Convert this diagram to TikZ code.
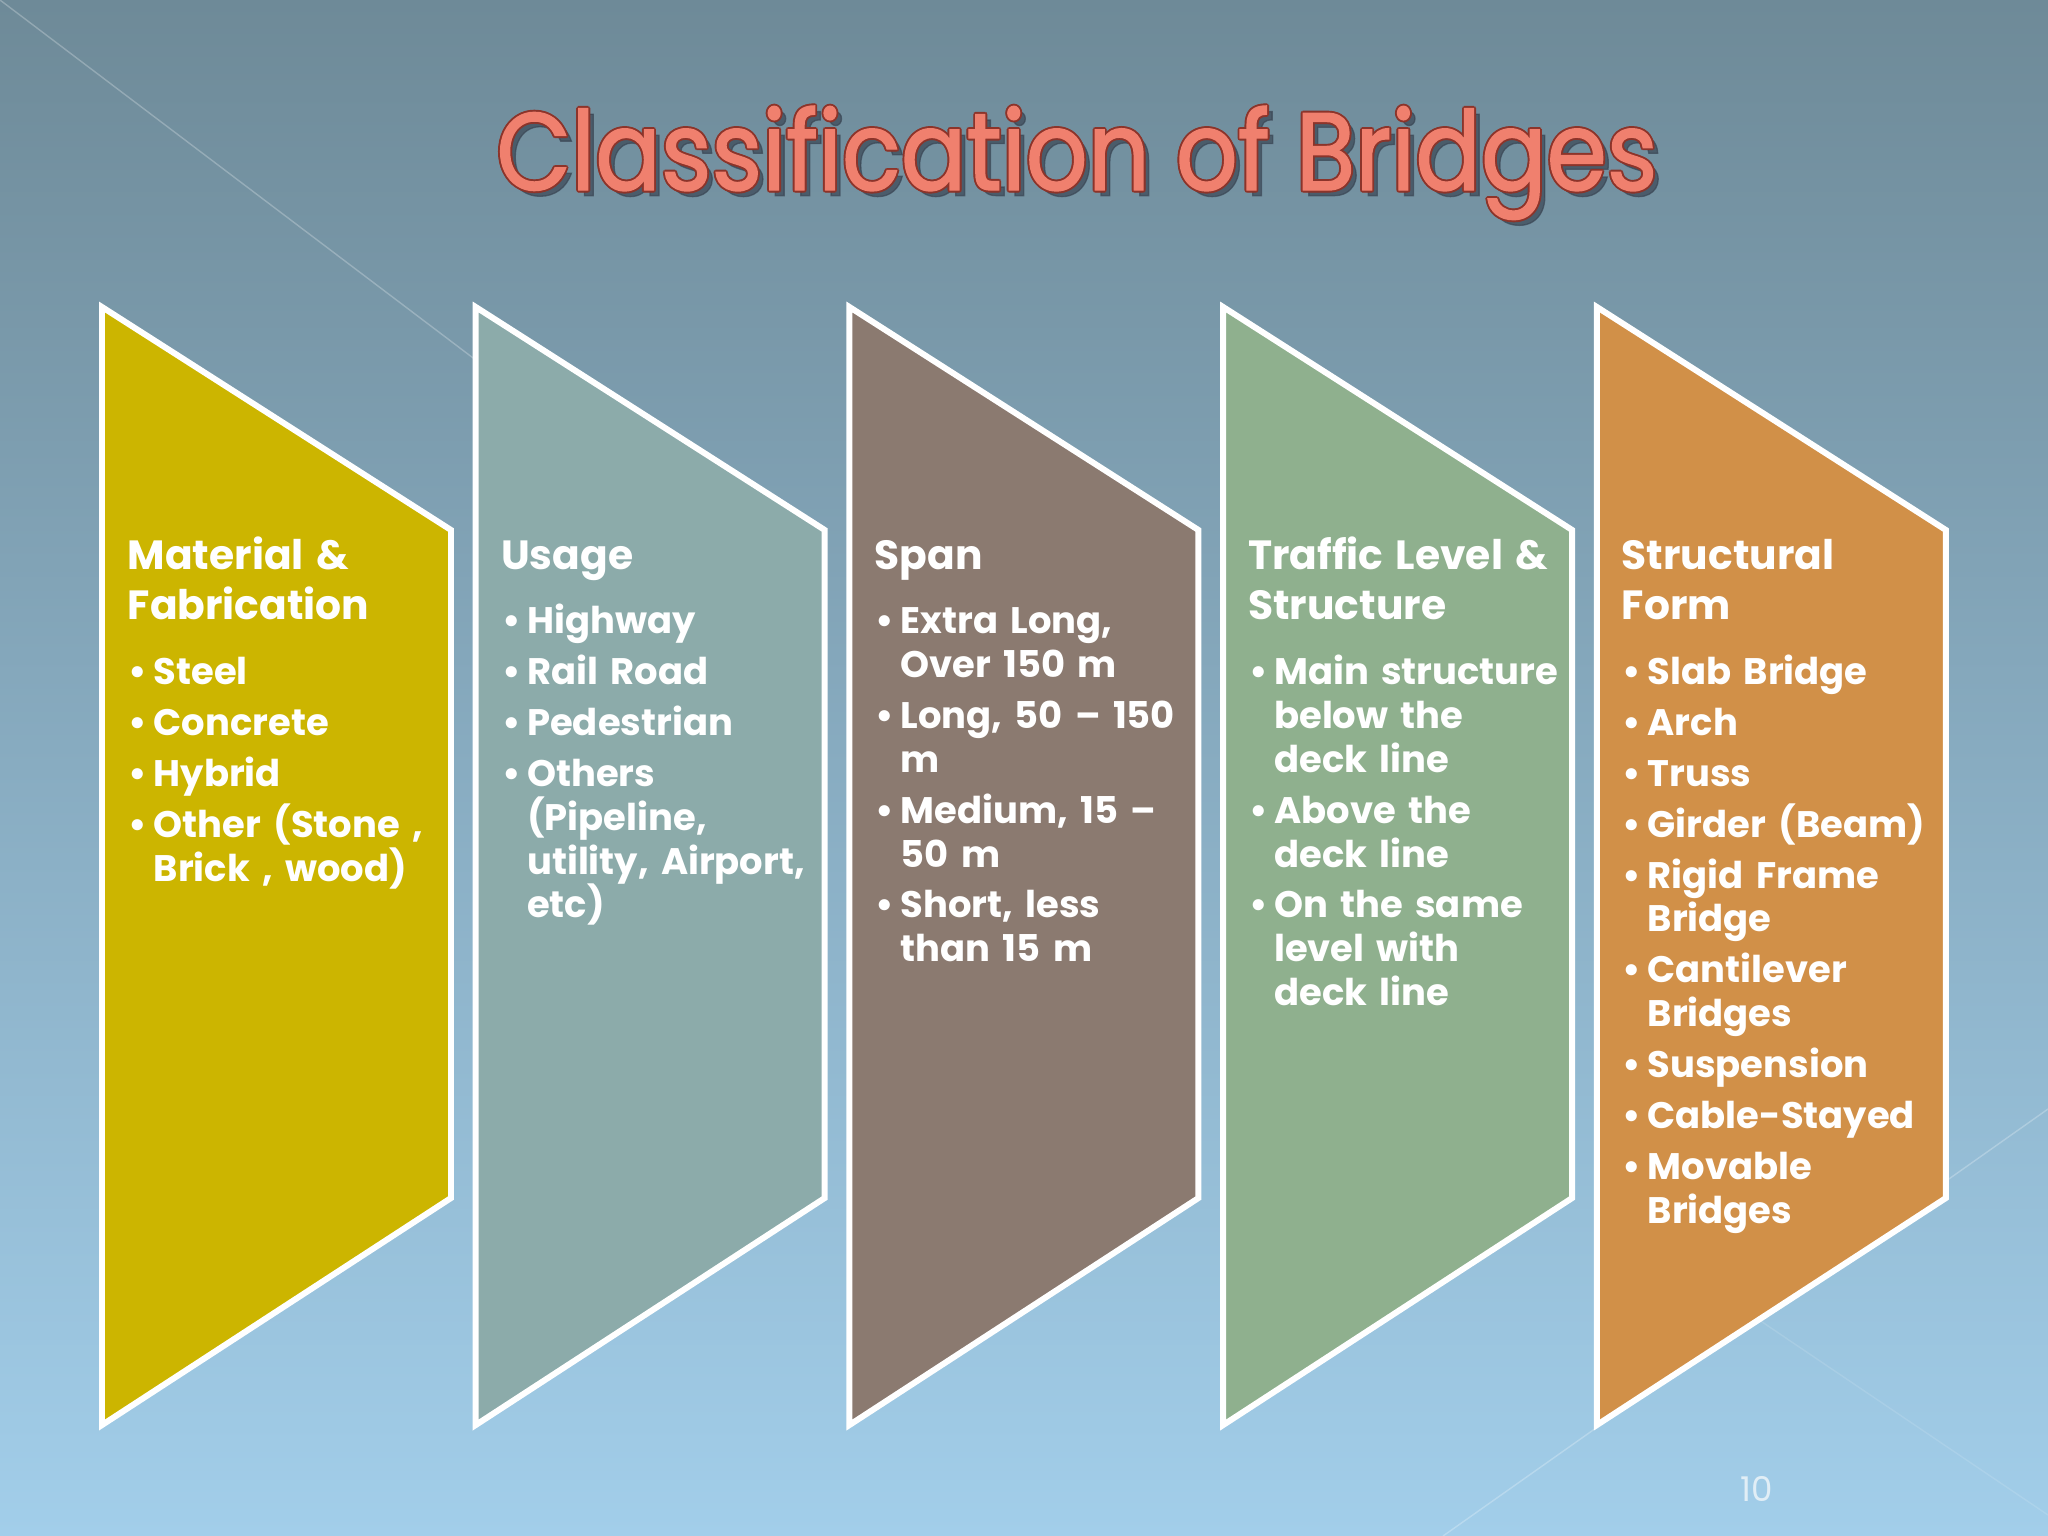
\documentclass[tikz,border=0pt]{standalone}
\usepackage{fontspec}
\setmainfont{Poppins}
\newfontfamily\titlefont[FakeStretch=0.882, FakeBold=1.2]{Poppins}
\definecolor{bgTop}{RGB}{110,138,152}
\definecolor{bgMid}{RGB}{130,165,186}
\definecolor{bgBottom}{RGB}{162,206,234}
\definecolor{matCol}{RGB}{204,181,0}
\definecolor{useCol}{RGB}{140,171,170}
\definecolor{spanCol}{RGB}{139,122,112}
\definecolor{trafficCol}{RGB}{143,176,142}
\definecolor{formCol}{RGB}{209,144,72}
\definecolor{titleFill}{RGB}{240,128,110}
\definecolor{titleEdge}{RGB}{140,52,42}
\definecolor{titleShade}{RGB}{58,70,84}
\definecolor{pageCol}{RGB}{225,238,246}
\newcommand{\headfont}{\fontsize{11.6}{14.46}\selectfont\bfseries}
\newcommand{\itemfont}{\fontsize{10.5}{12.47}\selectfont\bfseries}
\newcommand{\bitem}[2][1.99pt]{\par\vspace{#1}\noindent\llap{\textbullet\hspace{1.9pt}}#2}
\tikzset{
  panel/.style={draw=white, line width=1.7pt, line join=miter},
  paneltext/.style={anchor=base west, inner sep=0pt, text width=115pt, align=left, text=white, font=\itemfont},
  titletext/.style={anchor=base, inner sep=0pt, font=\titlefont\fontsize{31.3}{36}\selectfont},
  bgline/.style={draw=white, opacity=0.25, line width=0.4pt}
}
\begin{document}
\begin{tikzpicture}[x=0.01cm, y=-0.01cm]
  \shade[top color=bgTop, middle color=bgMid, bottom color=bgBottom] (0,0) rectangle (2048,1536);
  \useasboundingbox (0,0) rectangle (2048,1536);

  \draw[bgline] (0,0) -- (600,454);
  \draw[bgline] (2048,1109) -- (1443,1536);
  \draw[bgline, opacity=0.12] (1700,1280) -- (2048,1515);

  \node[titletext, text=titleShade, opacity=0.7, shift={(1.6pt,-1.6pt)}] (titleShadow) at (1077,190) {Classification of Bridges};
  \foreach \a in {0,45,...,315}
    \node[titletext, text=titleEdge, shift={(\a:0.55pt)}] (titleEdge\a) at (1077,190) {Classification of Bridges};
  \node[titletext, text=titleFill] (title) at (1077,190) {Classification of Bridges};

  \draw[panel, fill=matCol] (102,307) -- (451,530) -- (451,1198) -- (102,1425) -- cycle;
  \draw[panel, fill=useCol, xshift=3.735cm] (102,307) -- (451,530) -- (451,1198) -- (102,1425) -- cycle;
  \draw[panel, fill=spanCol, xshift=7.47cm] (102,307) -- (451,530) -- (451,1198) -- (102,1425) -- cycle;
  \draw[panel, fill=trafficCol, xshift=11.205cm] (102,307) -- (451,530) -- (451,1198) -- (102,1425) -- cycle;
  \draw[panel, fill=formCol, xshift=14.94cm] (102,307) -- (451,530) -- (451,1198) -- (102,1425) -- cycle;

  \node[paneltext] (matText) at (127,569) {{\headfont Material \&\\Fabrication\par}
    \leftskip=7.4pt
    \bitem[5.96pt]{Steel}
    \bitem{Concrete}
    \bitem{Hybrid}
    \bitem{Other (Stone ,\\Brick , wood)}\par};
  \node[paneltext] (useText) at (500.5,569) {{\headfont Usage\par}
    \leftskip=7.4pt
    \bitem[5.96pt]{Highway}
    \bitem{Rail Road}
    \bitem{Pedestrian}
    \bitem{Others\\(Pipeline,\\utility, Airport,\\etc)}\par};
  \node[paneltext] (spanText) at (874,569) {{\headfont Span\par}
    \leftskip=7.4pt
    \bitem[5.96pt]{Extra Long,\\Over 150 m}
    \bitem{Long, 50 – 150\\m}
    \bitem{Medium, 15 –\\50 m}
    \bitem{Short, less\\than 15 m}\par};
  \node[paneltext] (trafficText) at (1247.5,569) {{\headfont Traffic Level \&\\Structure\par}
    \leftskip=7.4pt
    \bitem[5.96pt]{Main structure\\below the\\deck line}
    \bitem{Above the\\deck line}
    \bitem{On the same\\level with\\deck line}\par};
  \node[paneltext] (formText) at (1621,569) {{\headfont Structural\\Form\par}
    \leftskip=7.4pt
    \bitem[5.96pt]{Slab Bridge}
    \bitem{Arch}
    \bitem{Truss}
    \bitem{Girder (Beam)}
    \bitem{Rigid Frame\\Bridge}
    \bitem{Cantilever\\Bridges}
    \bitem{Suspension}
    \bitem{Cable-Stayed}
    \bitem{Movable\\Bridges}\par};

  \node[anchor=base, inner sep=0pt, text=pageCol, font=\fontsize{9.7}{12}\selectfont] (pageNum) at (1757,1501) {10};
\end{tikzpicture}
\end{document}
